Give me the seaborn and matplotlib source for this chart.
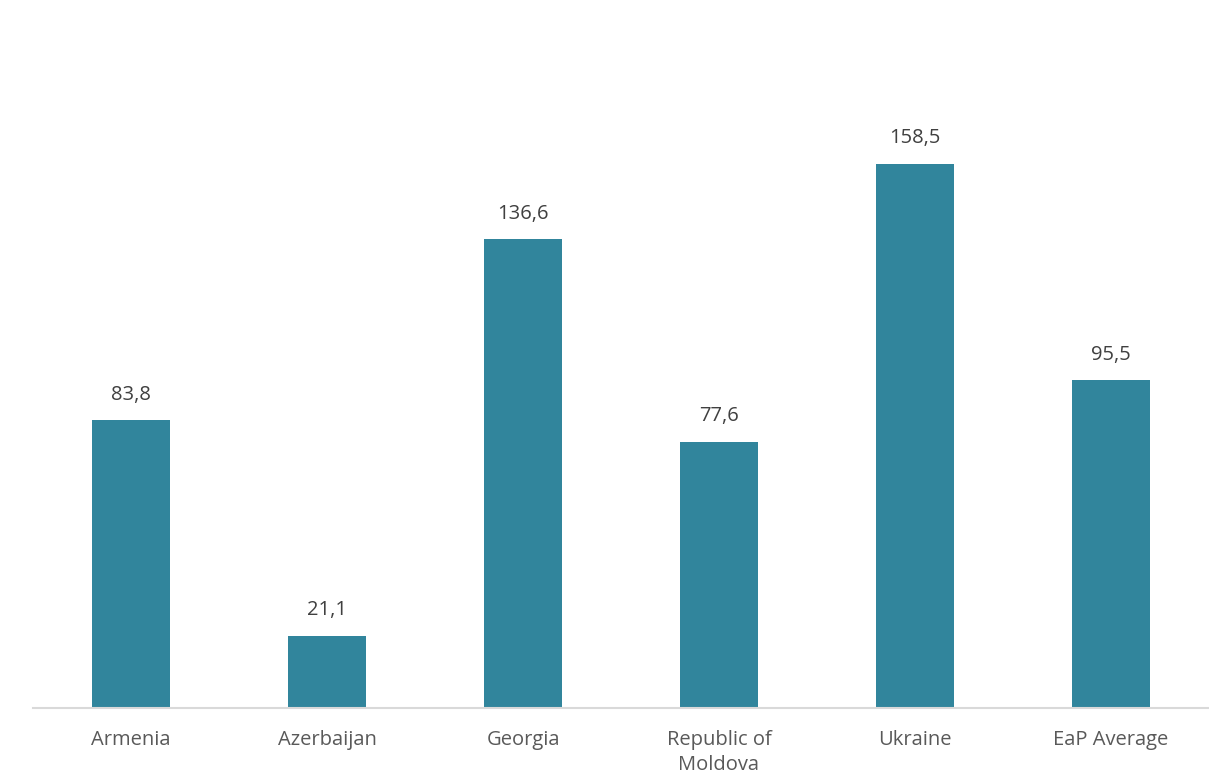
import matplotlib
matplotlib.use("Agg")
import matplotlib.pyplot as plt
import seaborn as sns
import pandas as pd

categories = ["Armenia", "Azerbaijan", "Georgia", "Republic of\nMoldova", "Ukraine", "EaP Average"]
values = [83.8, 21.1, 136.6, 77.6, 158.5, 95.5]
value_labels = ["83,8", "21,1", "136,6", "77,6", "158,5", "95,5"]

sns.set_theme(style="white")
plt.rcParams['font.family'] = ['Open Sans', 'DejaVu Sans']

df = pd.DataFrame({"cat": categories, "val": values})
fig = plt.figure(figsize=(12.09, 7.78), dpi=100)
ax = fig.add_axes([33/1209, 70/778, 1 - 33/1209, (708-90)/778])
sns.barplot(data=df, x="cat", y="val", color="#31859C", saturation=1, width=0.4,
            linewidth=0, ax=ax)
ax.set_ylim(0, 180)
ax.set_xlim(-0.5, 5.5)
for i, (v, lab) in enumerate(zip(values, value_labels)):
    ax.text(i, v + 4.5, lab, ha="center", va="bottom", fontsize=14.5, color="#404040")
ax.set_xlabel("")
ax.set_ylabel("")
ax.set_yticks([])
ax.tick_params(axis="x", labelsize=14.5, labelcolor="#595959", length=0, pad=16)
for t in ax.get_xticklabels():
    t.set_linespacing(1.3)
for s in ["top", "right", "left"]:
    ax.spines[s].set_visible(False)
ax.spines["bottom"].set_color("#D9D9D9")
ax.spines["bottom"].set_linewidth(1.5)
fig.savefig("out.png", dpi=100)
